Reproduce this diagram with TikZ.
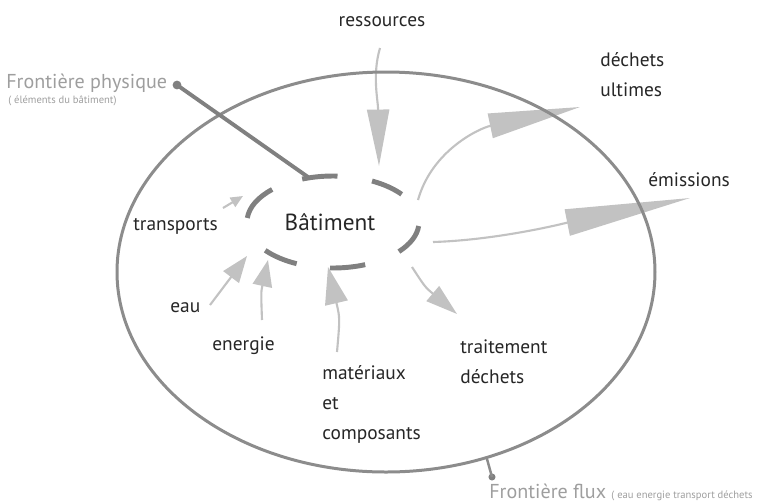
\documentclass[tikz,border=0pt]{standalone}
\usepackage{fontspec}
\setmainfont{PT Sans}
\usetikzlibrary{arrows.meta}
\definecolor{texte}{gray}{0.15}
\definecolor{bordure}{gray}{0.55}
\definecolor{anneau}{gray}{0.5}
\definecolor{fluxgris}{gray}{0.76}
\definecolor{legende}{gray}{0.62}
\begin{document}
\begin{tikzpicture}[x=0.567pt, y=-0.567pt,
    etiq/.style={font=\fontsize{11}{17}\selectfont, text=texte, inner sep=0pt, align=left},
    legtxt/.style={font=\fontsize{11.4}{13}\selectfont, text=legende, inner sep=0pt},
    flux/.style={draw=fluxgris, line width=1.2pt},
    seg/.style={draw=anneau, line width=2.8pt},
    point/.style={circle, fill=anneau, inner sep=0pt, minimum size=4pt}]
  \useasboundingbox (0,0) rectangle (763,503);
  % étiquettes
  \node[etiq, font=\fontsize{13.2}{15}\selectfont] (bat) at (330,222) {Bâtiment};
  \node[etiq, anchor=center] (res) at (382,22) {ressources};
  \node[etiq, anchor=west] (ult) at (600,75) {déchets\\ultimes};
  \node[etiq, anchor=west] (emi) at (648,180) {émissions};
  \node[etiq, anchor=west] (tra) at (133,226) {transports};
  \node[etiq, anchor=west] (eau) at (170,308) {eau};
  \node[etiq, anchor=west] (ene) at (212,346) {energie};
  \node[etiq, anchor=west] (mat) at (322,404) {matériaux\\et\\composants};
  \node[etiq, anchor=west] (tdc) at (460,362) {traitement\\déchets};
  % points d'attache des flèches
  \coordinate (res-d) at (380,48);   \coordinate (res-f) at (379,166);
  \coordinate (ult-d) at (418,200);  \coordinate (ult-f) at (580,107);
  \coordinate (emi-d) at (433,242);  \coordinate (emi-f) at (690,198);
  \coordinate (tra-d) at (223,208);  \coordinate (tra-f) at (243,196);
  \coordinate (eau-d) at (210,305);  \coordinate (eau-f) at (247,256);
  \coordinate (ene-d) at (262,320);  \coordinate (ene-f) at (268,260);
  \coordinate (mat-d) at (337,352);  \coordinate (mat-f) at (328,267);
  \coordinate (tdc-d) at (412,267);  \coordinate (tdc-f) at (457,314);
  % flèches entrantes
  \draw[flux, -{Triangle[length=32pt, width=12.5pt]}] (res-d) .. controls (372,75) and (378,100) .. (res-f);
  \draw[flux, -{Triangle[length=7pt, width=6pt]}] (tra-d) -- (tra-f);
  \draw[flux, -{Triangle[length=15pt, width=11pt]}] (eau-d) -- (eau-f);
  \draw[flux, -{Triangle[length=15pt, width=11pt]}] (ene-d) .. controls (261,292) .. (ene-f);
  \draw[flux, -{Triangle[length=21pt, width=13pt]}] (mat-d) .. controls (340,318) .. (mat-f);
  % flèches sortantes
  \draw[flux, -{Triangle[length=52pt, width=14pt]}] (ult-d) .. controls (432,150) and (480,128) .. (ult-f);
  \draw[flux, -{Triangle[length=71pt, width=15pt]}] (emi-d) .. controls (500,240) and (570,222) .. (emi-f);
  \draw[flux, -{Triangle[length=18pt, width=11pt]}] (tdc-d) .. controls (425,287) .. (tdc-f);
  % frontière flux
  \draw[draw=bordure, line width=1.7pt] (386,272) ellipse [x radius=269, y radius=200];
  \coordinate (ff-b) at (487,459);
  \node[point] (ff) at (492,477) {};
  \draw[draw=bordure, line width=1.4pt] (ff-b) -- (ff.center);
  \node[legtxt, anchor=west] (fflux) at (489,492) {Frontière flux {\fontsize{6}{7}\selectfont ( eau energie transport déchets}};
  % anneau du bâtiment
  \foreach \a/\b in {249/273, 297/323, 5/40, 68/92, 115/142, 185/225}
    \draw[seg] ({333+86*cos(\a)},{222+46*sin(\a)}) arc[start angle=\a, end angle=\b, x radius=86, y radius=46];
  % frontière physique
  \node[legtxt, anchor=west] (fphy) at (6,83) {Frontière physique};
  \node[legtxt, anchor=west, font=\fontsize{6}{7}\selectfont] (fphy2) at (8,101) {( éléments du bâtiment)};
  \node[point, minimum size=5pt] (fp) at (177,85) {};
  \coordinate (ph) at (308,177);
  \draw[draw=anneau, line width=2.2pt] (fp.center) -- (ph);
\end{tikzpicture}
\end{document}
